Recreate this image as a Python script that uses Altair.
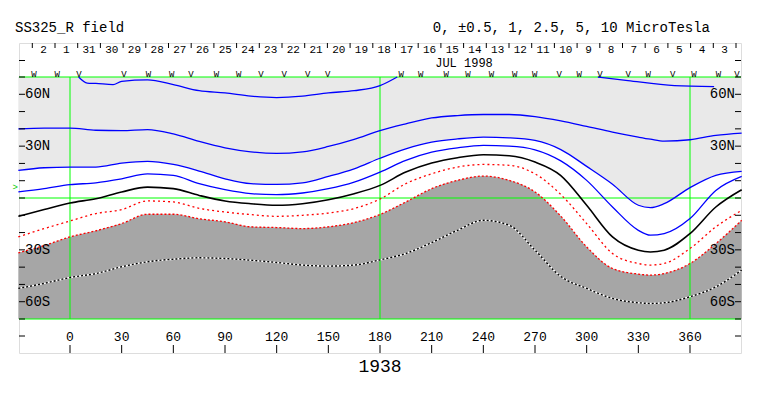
import altair as alt
import pandas as pd

# ---------------- data ----------------
LON = [-30, -15, 0, 15, 30, 45, 60, 75, 90, 105, 120, 135, 150, 165, 180,
       195, 210, 225, 240, 255, 270, 285, 300, 315, 330, 337, 345, 360, 375, 390]

LINE_B = [40.0, 40.4, 40.4, 39.2, 39.0, 39.6, 37.1, 32.7, 29.0, 26.7, 25.8, 26.7, 29.8, 33.9, 39.0,
          42.9, 46.3, 47.7, 48.3, 48.3, 47.1, 44.6, 41.4, 38.1, 35.2, 34.0, 32.9, 33.7, 36.2, 37.5]
LINE_C = [16.0, 17.5, 17.9, 17.9, 20.2, 21.2, 19.4, 15.6, 11.1, 8.3, 7.9, 8.8, 12.5, 16.9, 23.0,
          28.4, 32.3, 34.2, 35.2, 34.8, 33.3, 28.0, 18.3, 8.0, -4.2, -5.6, -3.3, 6.0, 13.1, 15.4]
LINE_D = [3.5, 5.4, 7.7, 8.8, 11.1, 14.0, 13.1, 8.3, 4.8, 2.5, 1.9, 2.9, 5.4, 9.2, 15.0,
          21.8, 26.5, 29.0, 30.4, 30.0, 27.9, 21.5, 10.2, -5.2, -18.7, -21.5, -20.6, -11.9, 4.4, 12.5]
LINE_E = [-10.6, -6.7, -2.9, -0.4, 3.5, 6.3, 5.4, 1.5, -1.7, -3.3, -4.2, -3.3, -1.0, 2.5, 7.3,
          15.0, 20.2, 23.3, 25.0, 24.4, 20.8, 13.0, -4.2, -22.5, -30.2, -31.2, -30.2, -20.6, -5.2, 4.8]
LINE_F = [-22.5, -17.7, -13.3, -9.0, -6.7, -1.7, -2.3, -6.0, -8.1, -9.6, -10.6, -10.0, -8.7, -6.1, -0.6,
          8.3, 14.0, 17.9, 19.4, 18.9, 14.0, 2.0, -14.8, -32.1, -37.9, -38.8, -37.9, -29.2, -16.7, -7.1]
LINE_G = [-31.7, -27.5, -22.5, -19.0, -14.8, -9.4, -9.4, -12.0, -13.8, -16.7, -17.1, -17.7, -16.7, -14.2, -9.5,
          -2.3, 5.4, 10.2, 12.7, 10.2, 3.5, -10.5, -28.3, -40.8, -44.0, -44.6, -43.7, -37.9, -26.4, -12.9]
LINE_H = [-52.3, -49.4, -46.0, -43.7, -39.8, -36.9, -35.4, -34.6, -35.0, -36.0, -37.3, -38.8, -39.4, -38.8, -35.8,
          -32.1, -25.8, -18.7, -12.9, -15.8, -30.2, -45.4, -52.3, -58.1, -60.6, -61.0, -60.6, -57.1, -51.4, -41.7]

LINE_A1_LON = [5, 10, 15, 25, 30, 45, 60, 75, 90, 105, 120, 135, 150, 165, 180, 190]
LINE_A1_LAT = [70, 66.5, 66.3, 65.6, 67.5, 68.3, 65.6, 62.1, 60.8, 58.9, 58.1, 58.9, 60.8, 62.1, 65.0, 70]
LINE_A2_LON = [306.5, 324, 351, 374]
LINE_A2_LAT = [70, 67.9, 65.0, 64.4]

DAYS = ["2", "1", "31", "30", "29", "28", "27", "26", "25", "24", "23", "22", "21", "20", "19",
        "18", "17", "16", "15", "14", "13", "12", "11", "10", "9", "8", "7", "6", "5", "4", "3"]

MARK_LON = [-20.9, -7.4, 5.2, 31.4, 45.5, 59.1, 70.2, 85.1, 97.9, 110.9, 124.4, 138.0, 149.6,
            192.3, 203.6, 218.5, 231.1, 244.7, 258.2, 269.9, 284.0, 295.6, 307.7, 324.1, 335.8,
            349.9, 362.3, 376.5, 387.2]
MARK_CHAR = ["W", "W", "V", "V", "W", "W", "V", "W", "W", "V", "V", "V", "V",
             "W", "W", "W", "W", "W", "W", "W", "V", "W", "V", "V", "W",
             "V", "W", "W", "V"]

LON_TICKS = [0, 30, 60, 90, 120, 150, 180, 210, 240, 270, 300, 330, 360]
LAT_TICKS = [-70, -60, -50, -40, -30, -20, -10, 0, 10, 20, 30, 40, 50, 60, 70]
LAT_LABEL_VALUES = [60, 30, -30, -60]
LAT_LABEL_TEXT = ["60N", "30N", "30S", "60S"]
GREEN_LON = [0, 180, 360]
GREEN_LAT = [70, 0, -70]

TITLE = "SS325_R field"
LEVELS = "0, \u00b10.5, 1, 2.5, 5, 10 MicroTesla"
MONTH = "JUL 1998"
XTITLE = "1938"

# ---------------- layout ----------------
W, H = 722, 310
PX_LON = 620 / 360            # px per degree longitude
PX_LAT = 242 / 140            # px per degree latitude
X0 = -51 / PX_LON
X1 = X0 + W / PX_LON
Y_TOP = 70 + 34 / PX_LAT
Y_BOT = Y_TOP - H / PX_LAT
FONT = "Liberation Mono"
TL = 6 / PX_LON               # frame tick length in lon units

xs = alt.Scale(domain=[X0, X1], nice=False, zero=False)
ys = alt.Scale(domain=[Y_BOT, Y_TOP], nice=False, zero=False)


def X(field="lon"):
    return alt.X(field, type="quantitative", scale=xs, axis=None)


def Y(field="lat"):
    return alt.Y(field, type="quantitative", scale=ys, axis=None)


def lat_at(py):
    """latitude of a page row (frame row 77 = 70N)"""
    return 70 + (77 - py) / PX_LAT


def lon_at(px):
    """longitude of a page column (column 70 = 0)"""
    return (px - 70) / PX_LON


grid = pd.DataFrame({"lon": LON, "B": LINE_B, "C": LINE_C, "D": LINE_D, "E": LINE_E,
                     "F": LINE_F, "G": LINE_G, "H": LINE_H})
grid["top"] = 70
grid["bot"] = -70

light = alt.Chart(grid).mark_area(color="#e9e9e9", interpolate="monotone").encode(
    x=X(), y=Y("C"), y2="top:Q")
dark = alt.Chart(grid).mark_area(color="#a6a6a6", interpolate="monotone").encode(
    x=X(), y=Y("G"), y2="bot:Q")

# green reference lines
gv = pd.DataFrame({"lon": GREEN_LON, "a": 70, "b": -70})
green_v = alt.Chart(gv).mark_rule(color="#00ff00", strokeWidth=1).encode(
    x=X(), y=Y("a"), y2="b:Q")
gh = pd.DataFrame({"lat": GREEN_LAT, "a": X0, "b": X1})
green_h = alt.Chart(gh).mark_rule(color="#00ff00", strokeWidth=1).encode(
    y=Y(), x=X("a"), x2="b:Q")


def curve(col, color, width=1.3, dash=None):
    kw = dict(color=color, strokeWidth=width, interpolate="monotone")
    if dash:
        kw["strokeDash"] = dash
    return alt.Chart(grid).mark_line(**kw).encode(x=X(), y=Y(col))


a1 = pd.DataFrame({"lon": LINE_A1_LON, "lat": LINE_A1_LAT})
a2 = pd.DataFrame({"lon": LINE_A2_LON, "lat": LINE_A2_LAT})
lineA1 = alt.Chart(a1).mark_line(color="#0000ff", strokeWidth=1.3, interpolate="monotone").encode(x=X(), y=Y())
lineA2 = alt.Chart(a2).mark_line(color="#0000ff", strokeWidth=1.3, interpolate="monotone").encode(x=X(), y=Y())

lines = [
    lineA1, lineA2,
    curve("B", "#0000ff"), curve("C", "#0000ff"), curve("D", "#0000ff"),
    curve("E", "#000000", 1.6),
    curve("F", "#ff0000", 1.3, [2, 3]),
    curve("G", "#ff0000", 1.3, [2, 2]),
    curve("H", "#ffffff", 1.4),
    curve("H", "#000000", 1.4, [2, 2]),
]

# latitude ticks on both frame edges (plus header / footer side ticks)
tick_lats = LAT_TICKS + [lat_at(60.5), lat_at(336)]
lt = pd.DataFrame({
    "lat": tick_lats * 2,
    "a": [X0] * len(tick_lats) + [X1 - TL] * len(tick_lats),
    "b": [X0 + TL] * len(tick_lats) + [X1] * len(tick_lats),
})
lat_ticks = alt.Chart(lt).mark_rule(color="black").encode(y=Y(), x=X("a"), x2="b:Q")

ll = pd.DataFrame({"lat": LAT_LABEL_VALUES, "t": LAT_LABEL_TEXT,
                   "lonl": X0 + TL, "lonr": X1 - TL})
lat_lab_l = alt.Chart(ll).mark_text(font=FONT, fontSize=14, align="left", baseline="middle",
                                    color="black").encode(y=Y(), x=X("lonl"), text="t:N")
lat_lab_r = alt.Chart(ll).mark_text(font=FONT, fontSize=14, align="right", baseline="middle",
                                    color="black").encode(y=Y(), x=X("lonr"), text="t:N")

# bottom longitude axis (inside the frame)
xt = pd.DataFrame({"lon": LON_TICKS, "t": [str(v) for v in LON_TICKS],
                   "a": Y_BOT, "b": Y_BOT + 8 / PX_LAT, "lab": lat_at(337)})
lon_ticks = alt.Chart(xt).mark_rule(color="black").encode(x=X(), y=Y("a"), y2="b:Q")
lon_labels = alt.Chart(xt).mark_text(font=FONT, fontSize=13, baseline="middle", color="black").encode(
    x=X(), y=Y("lab"), text="t:N")

xtitle = alt.Chart(pd.DataFrame({"lon": [180], "lat": [lat_at(366.5)], "t": [XTITLE]})).mark_text(
    font=FONT, fontSize=18, baseline="middle", color="black").encode(x=X(), y=Y(), text="t:N")

# header: day numbers with separators
day_step = 22.7 / PX_LON
first_tick = lon_at(32.3)
dtick = pd.DataFrame({"lon": [first_tick + k * day_step for k in range(len(DAYS) + 1)],
                      "a": Y_TOP, "b": Y_TOP - 5 / PX_LAT})
day_ticks = alt.Chart(dtick).mark_rule(color="black").encode(x=X(), y=Y("a"), y2="b:Q")
dlab = pd.DataFrame({"lon": [first_tick + (k + 0.5) * day_step for k in range(len(DAYS))],
                     "lat": lat_at(49.5), "t": DAYS})
day_labels = alt.Chart(dlab).mark_text(font=FONT, fontSize=11, baseline="middle", color="black").encode(
    x=X(), y=Y(), text="t:N")
month = alt.Chart(pd.DataFrame({"lon": [lon_at(464)], "lat": [lat_at(63)], "t": [MONTH]})).mark_text(
    font=FONT, fontSize=12, baseline="middle", color="black").encode(x=X(), y=Y(), text="t:N")
marks = pd.DataFrame({"lon": MARK_LON, "t": MARK_CHAR, "lat": lat_at(74)})
markers = alt.Chart(marks).mark_text(font=FONT, fontSize=9, baseline="middle", color="black").encode(
    x=X(), y=Y(), text="t:N")

sun = alt.Chart(pd.DataFrame({"lon": [lon_at(18)], "lat": [lat_at(187)], "t": [">"]})).mark_text(
    font=FONT, fontSize=9, align="right", baseline="middle", color="#00cc00").encode(
    x=X(), y=Y(), text="t:N")

# titles above the frame
title_lat = lat_at(27.5)
title_l = alt.Chart(pd.DataFrame({"lon": [lon_at(15)], "lat": [title_lat], "t": [TITLE]})).mark_text(
    font=FONT, fontSize=14, align="left", baseline="middle", color="black").encode(
    x=X(), y=Y(), text="t:N")
title_r = alt.Chart(pd.DataFrame({"lon": [lon_at(710)], "lat": [title_lat], "t": [LEVELS]})).mark_text(
    font=FONT, fontSize=14, align="right", baseline="middle", color="black").encode(
    x=X(), y=Y(), text="t:N")

chart = alt.layer(
    light, dark, green_v, green_h, *lines,
    lat_ticks, lat_lab_l, lat_lab_r,
    lon_ticks, lon_labels, xtitle,
    day_ticks, day_labels, month, markers, sun, title_l, title_r,
).properties(
    width=W, height=H,
    autosize=alt.AutoSizeParams(type="none"),
    padding={"left": 11, "top": 35, "right": 14, "bottom": 35},
).configure_view(stroke="black", strokeWidth=1).configure(background="white")

chart.save("out.html", embed_options={"renderer": "svg", "actions": False})
